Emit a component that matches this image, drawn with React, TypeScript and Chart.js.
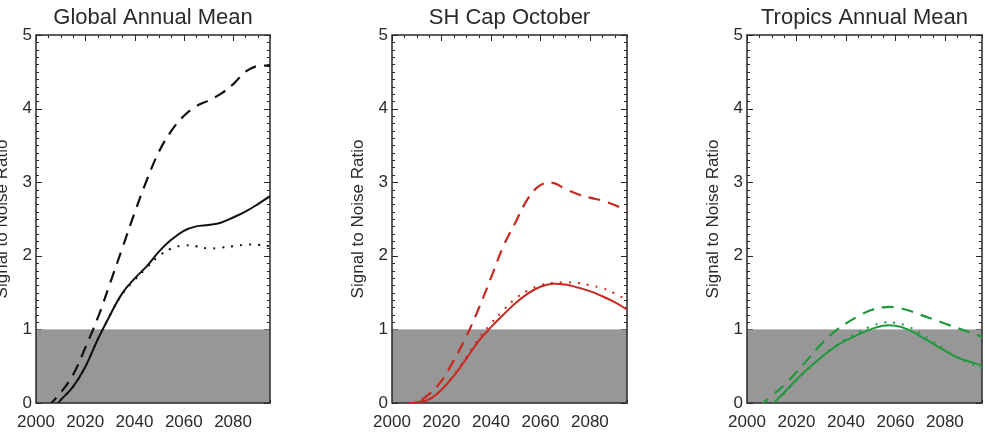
import React, { useEffect, useRef } from "react";
import { Chart, registerables } from "chart.js";

Chart.register(...registerables);

// ---------------- data ----------------
const years = [2005, 2010, 2015, 2020, 2025, 2030, 2035, 2040, 2045, 2050, 2055, 2060, 2065, 2070, 2075, 2080, 2085, 2090, 2095];

const globalSolid = [-0.15, 0.04, 0.22, 0.49, 0.86, 1.19, 1.49, 1.69, 1.86, 2.06, 2.22, 2.34, 2.4, 2.42, 2.45, 2.52, 2.6, 2.7, 2.81];
const globalDashed = [-0.05, 0.14, 0.38, 0.75, 1.15, 1.62, 2.1, 2.58, 3.03, 3.42, 3.7, 3.9, 4.03, 4.11, 4.2, 4.33, 4.5, 4.58, 4.58];
const globalDotted = [-0.15, 0.04, 0.22, 0.49, 0.86, 1.19, 1.48, 1.67, 1.84, 2.0, 2.1, 2.14, 2.13, 2.1, 2.11, 2.13, 2.15, 2.15, 2.13];

const shSolid = [-0.02, 0.01, 0.05, 0.18, 0.37, 0.6, 0.84, 1.03, 1.2, 1.36, 1.49, 1.58, 1.62, 1.61, 1.57, 1.52, 1.45, 1.37, 1.27];
const shDashed = [-0.1, 0.0, 0.12, 0.3, 0.58, 0.9, 1.28, 1.7, 2.13, 2.46, 2.78, 2.96, 2.99, 2.91, 2.84, 2.79, 2.75, 2.69, 2.62];
const shDotted = [-0.02, 0.01, 0.05, 0.18, 0.38, 0.62, 0.87, 1.08, 1.26, 1.42, 1.53, 1.6, 1.63, 1.64, 1.63, 1.6, 1.56, 1.49, 1.4];

const tropicsSolid = [-0.25, -0.03, 0.14, 0.32, 0.48, 0.62, 0.75, 0.85, 0.93, 1.0, 1.05, 1.05, 1.0, 0.91, 0.81, 0.71, 0.62, 0.56, 0.51];
const tropicsDashed = [-0.05, 0.1, 0.24, 0.42, 0.61, 0.8, 0.96, 1.08, 1.18, 1.26, 1.3, 1.3, 1.26, 1.2, 1.14, 1.08, 1.02, 0.96, 0.9];
const tropicsDotted = [-0.25, -0.03, 0.13, 0.31, 0.47, 0.62, 0.76, 0.87, 0.96, 1.04, 1.09, 1.09, 1.04, 0.95, 0.84, 0.73, 0.62, 0.54, 0.47];

const panelTitles = ["Global Annual Mean", "SH Cap October", "Tropics Annual Mean"];
const yAxisTitle = "Signal to Noise Ratio";
const xTickValues = [2000, 2020, 2040, 2060, 2080];
const yTickValues = [0, 1, 2, 3, 4, 5];
const X_MIN = 2000;
const X_MAX = 2095;
const Y_MIN = 0;
const Y_MAX = 5;
const NOISE_LEVEL = 1;
const X_MINOR_STEP = 5;
const Y_MINOR_STEP = 0.1;

// ---------------- styles / layout ----------------
const FONT = "'Liberation Sans', Arial, Helvetica, sans-serif";
const TEXT_COLOR = "#2a2a2a";
const FRAME_COLOR = "#2a2a2a";
const BAND_COLOR = "#979797";
const Y_AXIS_W = 60;
const X_AXIS_H = 35;
const RIGHT_PAD = 3;
const CANVAS_H = 438;
const MAJOR_LEN = 6;
const MINOR_LEN = 3;

const framePlugin = {
  id: "frameBand",
  beforeDatasetsDraw(chart: any) {
    const { ctx, chartArea } = chart;
    const { left, right, top, bottom } = chartArea;
    const xs = chart.scales.x;
    const ys = chart.scales.y;
    ctx.save();
    // inward ticks on all four sides
    ctx.strokeStyle = FRAME_COLOR;
    ctx.lineWidth = 1;
    ctx.beginPath();
    const xMajors = xs.ticks.map((t: any) => t.value);
    for (let v = X_MIN; v <= X_MAX + 1e-6; v += X_MINOR_STEP) {
      const isMajor = xMajors.some((m: number) => Math.abs(m - v) < 1e-6);
      const len = isMajor ? MAJOR_LEN : MINOR_LEN;
      const px = Math.round(xs.getPixelForValue(v)) + 0.5;
      ctx.moveTo(px, top);
      ctx.lineTo(px, top + len);
      ctx.moveTo(px, bottom);
      ctx.lineTo(px, bottom - len);
    }
    const yMajors = ys.ticks.map((t: any) => t.value);
    const nMinor = Math.round((Y_MAX - Y_MIN) / Y_MINOR_STEP);
    for (let i = 0; i <= nMinor; i++) {
      const v = Y_MIN + i * Y_MINOR_STEP;
      const isMajor = yMajors.some((m: number) => Math.abs(m - v) < 1e-6);
      const len = isMajor ? MAJOR_LEN : MINOR_LEN;
      const py = Math.round(ys.getPixelForValue(v)) + 0.5;
      ctx.moveTo(left, py);
      ctx.lineTo(left + len, py);
      ctx.moveTo(right, py);
      ctx.lineTo(right - len, py);
    }
    ctx.stroke();
    // grey "noise" band
    const yTop = ys.getPixelForValue(NOISE_LEVEL);
    const yBot = ys.getPixelForValue(Y_MIN);
    ctx.fillStyle = BAND_COLOR;
    ctx.fillRect(left, yTop, right - left, yBot - yTop);
    // frame
    ctx.lineWidth = 1.5;
    ctx.strokeStyle = FRAME_COLOR;
    ctx.strokeRect(left, top, right - left, bottom - top);
    ctx.restore();
  },
};

type PanelProps = {
  title: string;
  solid: number[];
  dashed: number[];
  dotted: number[];
  color: string;
  plotLeft: number;
  plotRight: number;
};

function Panel({ title, solid, dashed, dotted, color, plotLeft, plotRight }: PanelProps) {
  const ref = useRef<HTMLCanvasElement>(null);
  const width = plotRight - plotLeft + Y_AXIS_W + RIGHT_PAD;

  useEffect(() => {
    const canvas = ref.current;
    if (!canvas) return;
    const toPts = (vals: number[]) => years.map((x, i) => ({ x, y: vals[i] }));
    const mk = (label: string, vals: number[], dash: number[], w: number) => ({
      label,
      data: toPts(vals),
      borderColor: color,
      backgroundColor: color,
      borderWidth: w,
      borderDash: dash,
      pointRadius: 0,
      fill: false,
      tension: 0.4,
      clip: 0,
    });
    const chart = new Chart(canvas, {
      type: "line",
      data: {
        datasets: [
          mk("solid", solid, [], 2),
          mk("dashed", dashed, [12, 8], 2.2),
          mk("dotted", dotted, [2, 7], 2),
        ],
      },
      options: {
        animation: false,
        responsive: false,
        maintainAspectRatio: false,
        layout: { padding: { left: 0, right: RIGHT_PAD, top: 0, bottom: 0 } },
        plugins: {
          legend: { display: false },
          tooltip: { enabled: false },
          title: {
            display: true,
            text: title,
            fullSize: false,
            color: TEXT_COLOR,
            font: { family: FONT, size: 22, weight: "normal" as any },
            padding: { top: 5, bottom: 3.6 },
          },
        },
        scales: {
          x: {
            type: "linear",
            min: X_MIN,
            max: X_MAX,
            afterBuildTicks: (s: any) => {
              s.ticks = xTickValues.map((v) => ({ value: v }));
            },
            afterFit: (s: any) => {
              s.height = X_AXIS_H;
            },
            grid: { display: false, drawTicks: false },
            border: { display: false },
            ticks: {
              padding: 9,
              color: TEXT_COLOR,
              font: { family: FONT, size: 17 },
              maxRotation: 0,
              autoSkip: false,
              callback: (v: any) => String(v),
            },
          },
          y: {
            type: "linear",
            min: Y_MIN,
            max: Y_MAX,
            afterBuildTicks: (s: any) => {
              s.ticks = yTickValues.map((v) => ({ value: v }));
            },
            afterFit: (s: any) => {
              s.width = Y_AXIS_W;
            },
            grid: { display: false, drawTicks: false },
            border: { display: false },
            ticks: {
              padding: 4,
              color: TEXT_COLOR,
              font: { family: FONT, size: 17 },
              callback: (v: any) => String(v),
            },
            title: {
              display: true,
              text: yAxisTitle,
              color: TEXT_COLOR,
              font: { family: FONT, size: 17 },
              padding: { top: 16, bottom: 0 },
            },
          },
        },
      } as any,
      plugins: [framePlugin],
    });
    return () => chart.destroy();
  }, [title, solid, dashed, dotted, color, plotLeft, plotRight]);

  return (
    <canvas
      ref={ref}
      width={width}
      height={CANVAS_H}
      style={{ position: "absolute", left: plotLeft - Y_AXIS_W, top: 0, width, height: CANVAS_H, display: "block" }}
    />
  );
}

export default function App() {
  return (
    <div
      style={{
        position: "fixed",
        left: 0,
        top: 0,
        width: 985,
        height: 438,
        overflow: "hidden",
        background: "#fff",
      }}
    >
      <Panel title={panelTitles[0]} solid={globalSolid} dashed={globalDashed} dotted={globalDotted} color="#111111" plotLeft={36} plotRight={270} />
      <Panel title={panelTitles[1]} solid={shSolid} dashed={shDashed} dotted={shDotted} color="#c8281e" plotLeft={392} plotRight={627} />
      <Panel title={panelTitles[2]} solid={tropicsSolid} dashed={tropicsDashed} dotted={tropicsDotted} color="#1e9a3c" plotLeft={747} plotRight={982} />
    </div>
  );
}
